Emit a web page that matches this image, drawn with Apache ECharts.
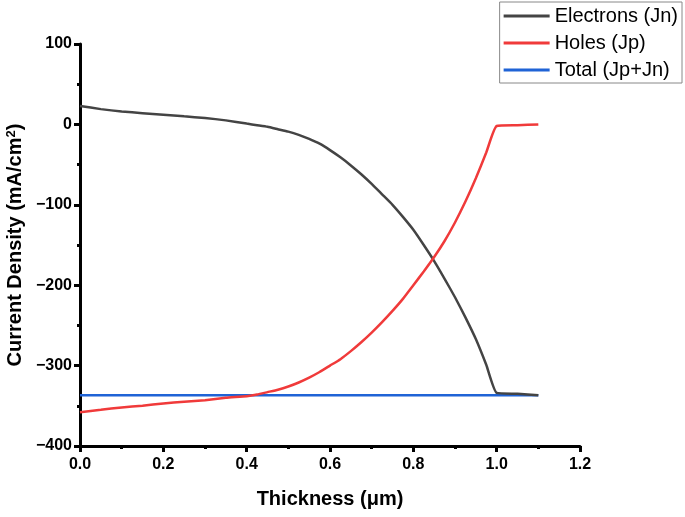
<!DOCTYPE html>
<html>
<head>
<meta charset="utf-8">
<script src="https://cdn.jsdelivr.net/npm/echarts@6/dist/echarts.min.js"></script>
<style>html,body{margin:0;padding:0;background:#fff}#c{width:685px;height:517px}</style>
</head>
<body>
<div id="c"></div>
<script>
const thickness = [0.0,0.05,0.1,0.15,0.2,0.25,0.3,0.35,0.4,0.425,0.45,0.475,0.5,0.525,0.55,0.575,0.6,0.625,0.65,0.675,0.7,0.725,0.75,0.775,0.8,0.825,0.85,0.875,0.9,0.925,0.95,0.975,1.0,1.05,1.1];
const electrons = [23,19,16,14,12,10,8,5,1,-1,-3,-6,-9,-13,-18,-24,-32,-41,-51,-62,-74,-87,-100,-115,-131,-150,-170,-192,-215,-240,-267,-299,-334,-335,-337];
const holes = [-358,-355,-352,-350,-347,-345,-343,-340,-338,-336,-333,-330,-326,-321,-315,-308,-300,-292,-282,-271,-259,-246,-232,-217,-200,-183,-165,-145,-122,-96,-67,-35,-2,-1,0];
const totalX = [0.0,1.1];
const totalY = [-337,-337];
const seriesNames = ['Electrons (Jn)','Holes (Jp)','Total (Jp+Jn)'];

const pair = (xs, ys) => xs.map((x,i)=>[x,ys[i]]);
const font = 'Liberation Sans, Arial, sans-serif';
const chart = echarts.init(document.getElementById('c'));
chart.setOption({
  animation:false,
  backgroundColor:'#fff',
  grid:{left:80,top:44,right:105,bottom:71,containLabel:false,outerBoundsMode:'none'},
  legend:{
    orient:'vertical', right:3, top:2,
    borderColor:'#888', borderWidth:1, padding:[4,4,3,4],
    itemWidth:46, itemHeight:3, itemGap:7,
    textStyle:{fontFamily:font,fontSize:20,color:'#000',padding:[0,0,0,0]},
    data:seriesNames.map(n=>({name:n,icon:'rect'}))
  },
  xAxis:{
    type:'value', min:0, max:1.2, interval:0.2,
    name:'Thickness (\u03bcm)', nameLocation:'middle', nameGap:43,
    nameTextStyle:{fontFamily:font,fontSize:20,fontWeight:'bold',color:'#000'},
    axisLine:{onZero:false,lineStyle:{color:'#000',width:3}},
    axisTick:{show:true,inside:false,length:6,lineStyle:{width:3,color:'#000'}},
    minorTick:{show:true,splitNumber:2,length:3,lineStyle:{width:3,color:'#000'}},
    splitLine:{show:false},
    axisLabel:{fontFamily:font,fontSize:16,fontWeight:'bold',color:'#000',margin:11,
      formatter:v=>v.toFixed(1)}
  },
  yAxis:{
    type:'value', min:-400, max:100, interval:100,
    name:'{t|Current Density (mA/cm}{s|2}{t|)}', nameLocation:'middle', nameGap:50,
    nameTextStyle:{fontFamily:font,fontSize:20,fontWeight:'bold',color:'#000',
      rich:{t:{fontFamily:font,fontSize:20,fontWeight:'bold',color:'#000'},
            s:{fontFamily:font,fontSize:13,fontWeight:'bold',color:'#000',verticalAlign:'top',padding:[0,0,8,0]}}},
    axisLine:{show:true,onZero:false,lineStyle:{color:'#000',width:3}},
    axisTick:{show:true,inside:false,length:6,lineStyle:{width:3,color:'#000'}},
    minorTick:{show:true,splitNumber:2,length:3,lineStyle:{width:3,color:'#000'}},
    splitLine:{show:false},
    axisLabel:{fontFamily:font,fontSize:16,fontWeight:'bold',color:'#000',margin:8,
      formatter:v=>String(v).replace('-','\u2212')}
  },
  series:[
    {name:seriesNames[0],type:'line',data:pair(thickness,electrons),showSymbol:false,symbol:'none',
     smooth:0.15,lineStyle:{color:'#444',width:2.5},itemStyle:{color:'#444'},z:3},
    {name:seriesNames[1],type:'line',data:pair(thickness,holes),showSymbol:false,symbol:'none',
     smooth:0.15,lineStyle:{color:'#f03a3a',width:2.5},itemStyle:{color:'#f03a3a'},z:4},
    {name:seriesNames[2],type:'line',data:pair(totalX,totalY),showSymbol:false,symbol:'none',
     lineStyle:{color:'#1f63d6',width:2.5},itemStyle:{color:'#1f63d6'},z:2}
  ]
});
</script>
</body>
</html>
